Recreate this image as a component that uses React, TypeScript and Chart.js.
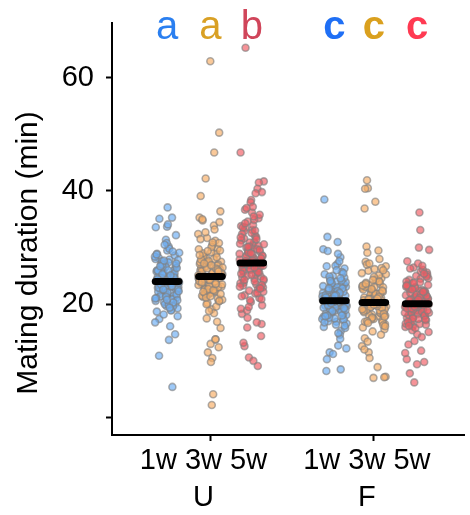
import React, { useEffect, useRef } from 'react';
import { Chart, registerables } from 'chart.js';

Chart.register(...registerables);

// ---- data ----
const groupNames = ['U 1w', 'U 3w', 'U 5w', 'F 1w', 'F 3w', 'F 5w'];
const sigLetters = ['a', 'a', 'b', 'c', 'c', 'c'];
const letterColors = ['#2A7FF0', '#D9A024', '#D0455A', '#1F6FF5', '#DAA01E', '#FF3A52'];
const letterBold = [false, false, false, true, true, true];
const groupMeans = [24.0, 24.9, 27.3, 20.6, 20.3, 20.1];
const yTickValues = [0, 20, 40, 60];
const xTickTop = '1w 3w 5w';
const xTickGroups = ['U', 'F'];
const yTitle = 'Mating duration (min)';

const U1w = [24.3, 21.8, 26.5, 19.7, 28.9, 23.1, 25.6, 22.4, 30.2, 17.4, 24.9, 27.3, 20.6, 23.8, 26.1, 21.2, 29.5, 22.9, 25.2, 18.2, 24.0, 27.9, 23.5, 20.1, 31.4, 25.8, 22.0, 26.8, 19.3, 24.6, 28.2, 21.5, 23.3, 16.8, 25.0, 27.1, 22.6, 30.8, 24.4, 20.9, 26.3, 23.0, 13.7, 25.4, 28.6, 21.9, 24.1, 19.0, 27.6, 23.7, 37.1, 22.2, 25.9, 20.4, 29.1, 24.7, 21.4, 26.9, 23.2, 18.7, 35.3, 25.3, 22.7, 27.4, 10.9, 24.2, 20.0, 28.0, 23.6, 26.2, 21.7, 33.7, 24.8, 19.6, 25.7, 22.3, 29.8, 23.9, 14.7, 26.6, 21.1, 24.5, 27.0, 20.7, 34.1, 23.4, 25.1, 22.5, 28.4, 16.1, 24.3, 32.2, 21.6, 26.0, 5.4, 23.0, 27.8, 19.9, 35.1, 25.5, 22.8, 33.6, 18.9, 24.6, 26.4, 22.1, 25.9, 20.3, 27.7, 23.8, 19.4, 26.7, 24.0, 21.3, 28.8, 23.2, 25.3, 17.9, 26.0, 22.9, 24.7, 30.5, 21.0, 25.1, 23.5, 27.2, 20.8, 24.4, 29.3, 22.6];
const U3w = [25.3, 22.1, 28.4, 20.5, 26.9, 24.0, 31.2, 23.3, 27.5, 19.1, 25.9, 29.8, 21.7, 24.6, 33.9, 22.8, 26.2, 62.9, 23.9, 28.9, 17.5, 25.1, 30.5, 21.3, 27.0, 24.3, 35.3, 22.5, 26.6, 15.8, 29.2, 23.6, 25.7, 20.2, 32.4, 24.8, 27.8, 50.3, 22.0, 26.0, 13.8, 28.1, 23.1, 25.4, 34.8, 21.0, 27.3, 24.5, 46.8, 22.6, 29.5, 13.0, 26.4, 23.7, 31.7, 20.8, 25.6, 28.6, 12.4, 24.2, 27.1, 22.3, 42.2, 25.0, 30.1, 21.5, 26.8, 11.5, 23.4, 28.0, 24.7, 34.5, 22.9, 39.1, 26.3, 20.0, 25.2, 10.5, 29.0, 23.0, 27.6, 24.1, 33.2, 21.9, 36.4, 9.8, 25.8, 28.3, 22.4, 26.5, 4.1, 24.9, 30.8, 23.2, 27.4, 13.8, 21.2, 25.5, 2.2, 35.0, 26.1, 22.7, 29.7, 18.4, 24.4, 24.6, 21.4, 27.9, 19.6, 26.3, 23.5, 30.9, 22.2, 25.8, 18.8, 28.7, 24.0, 32.7, 21.8, 26.9, 23.9, 16.9, 29.4, 25.1, 22.5, 27.2, 20.6, 24.3, 31.5, 23.6];
const U5w = [27.5, 24.2, 31.0, 21.6, 29.3, 26.1, 33.8, 23.5, 28.7, 19.8, 30.4, 25.7, 35.2, 22.4, 27.9, 32.1, 65.3, 24.9, 29.8, 18.3, 26.6, 34.6, 23.0, 28.2, 31.6, 21.1, 27.0, 46.8, 25.3, 30.0, 16.5, 33.1, 26.4, 22.7, 29.0, 41.7, 24.5, 36.7, 27.7, 20.4, 31.3, 25.9, 15.9, 28.5, 34.0, 23.8, 41.5, 26.9, 30.7, 21.9, 27.2, 14.4, 32.6, 24.7, 40.4, 29.5, 22.2, 28.0, 12.6, 35.8, 26.2, 19.2, 31.9, 25.0, 39.8, 27.8, 23.3, 30.3, 10.6, 28.9, 24.0, 33.5, 26.7, 38.4, 21.4, 29.7, 17.6, 27.3, 10.0, 32.9, 25.6, 30.9, 23.7, 39.6, 28.4, 20.9, 36.2, 26.0, 9.1, 29.2, 24.4, 34.9, 27.1, 22.9, 38.0, 25.4, 31.5, 18.9, 28.6, 37.2, 13.2, 26.3, 30.2, 23.1, 33.0, 27.6, 28.1, 25.2, 32.4, 22.0, 30.1, 26.8, 35.5, 24.3, 29.6, 20.7, 31.8, 27.4, 37.0, 23.4, 28.8, 33.6, 25.7, 19.5, 30.6, 26.5, 34.3, 22.8, 29.0, 27.0, 16.8];
const F1w = [20.8, 18.3, 23.1, 16.9, 21.7, 19.4, 25.0, 17.8, 22.4, 20.1, 26.3, 18.9, 21.2, 15.3, 23.8, 19.7, 27.1, 20.5, 17.2, 22.9, 38.5, 19.1, 24.4, 21.5, 16.4, 20.3, 25.7, 18.6, 22.0, 12.7, 19.9, 23.5, 17.5, 21.0, 28.3, 20.7, 18.1, 24.0, 31.9, 19.3, 22.6, 16.0, 21.8, 11.5, 20.2, 26.8, 18.4, 23.3, 19.6, 21.4, 31.0, 17.0, 22.2, 20.0, 25.3, 14.6, 19.0, 23.9, 21.1, 10.3, 18.7, 22.7, 29.7, 20.4, 17.6, 24.7, 19.5, 21.6, 8.5, 20.9, 16.6, 23.0, 29.4, 18.2, 22.1, 20.6, 27.6, 19.2, 15.8, 21.9, 8.2, 24.2, 18.8, 20.8, 28.9, 22.5, 17.3, 21.3, 19.8, 13.9, 23.6, 20.0, 26.0, 18.0, 22.8, 11.2, 19.4, 21.7, 24.9, 16.2, 20.6, 21.2, 18.6, 23.7, 17.4, 22.3, 19.8, 25.5, 20.4, 16.8, 22.0, 24.1, 19.0, 21.6, 26.7, 18.0, 20.9, 23.2, 14.9, 22.8, 19.3, 21.5, 17.9, 24.6, 20.2, 12.2];
const F3w = [20.4, 17.9, 22.8, 16.5, 21.3, 19.0, 24.6, 18.2, 23.2, 20.0, 25.9, 18.7, 21.6, 14.0, 23.6, 19.5, 26.7, 20.3, 41.9, 17.1, 22.3, 19.2, 24.1, 21.0, 15.6, 20.6, 27.5, 18.4, 22.0, 12.6, 19.8, 40.5, 23.0, 17.4, 21.2, 28.0, 19.9, 18.0, 24.4, 30.2, 19.3, 22.5, 15.9, 21.8, 11.5, 20.1, 26.2, 40.4, 18.5, 23.4, 19.6, 21.4, 29.1, 16.8, 22.1, 20.7, 25.1, 10.5, 19.1, 38.1, 23.8, 21.1, 17.7, 22.9, 8.9, 20.5, 16.3, 24.8, 36.9, 18.9, 21.7, 7.2, 20.2, 27.0, 19.4, 15.2, 22.6, 29.5, 18.1, 7.1, 21.5, 23.1, 20.8, 17.3, 25.5, 19.7, 13.4, 22.2, 7.0, 18.6, 24.0, 20.9, 16.1, 21.9, 19.0, 26.4, 17.6, 23.3, 20.3, 20.9, 18.3, 23.0, 16.9, 21.9, 19.5, 25.3, 20.0, 17.0, 22.4, 24.3, 18.8, 21.3, 27.2, 17.8, 20.6, 23.6, 14.6, 22.7, 19.1, 21.0, 16.7, 26.0, 19.9, 12.0];
const F5w = [20.2, 17.6, 22.5, 16.1, 21.0, 18.8, 24.3, 17.9, 23.0, 19.7, 25.8, 18.4, 21.4, 14.7, 23.5, 19.2, 26.5, 20.0, 36.2, 16.8, 22.1, 18.9, 24.0, 20.7, 15.4, 20.4, 27.2, 18.1, 21.8, 13.5, 19.5, 33.1, 22.7, 17.2, 21.1, 27.6, 19.8, 17.7, 24.6, 30.0, 19.0, 22.3, 15.8, 21.6, 11.8, 19.9, 25.6, 18.3, 23.2, 19.4, 21.2, 29.6, 16.5, 22.0, 20.5, 25.0, 10.3, 18.7, 23.7, 20.9, 17.4, 22.8, 9.8, 20.3, 16.0, 24.5, 18.6, 21.5, 9.4, 20.1, 26.1, 19.1, 15.1, 22.4, 7.8, 18.0, 21.3, 23.1, 20.6, 17.0, 25.2, 19.6, 12.9, 22.2, 6.2, 18.5, 23.9, 20.8, 16.4, 21.7, 19.3, 26.8, 17.5, 23.4, 20.0, 20.7, 18.0, 22.9, 16.6, 21.7, 19.3, 24.9, 19.9, 16.9, 22.2, 23.8, 18.5, 21.1, 26.3, 17.3, 20.4, 23.3, 14.2, 22.6, 18.9, 20.8, 16.2, 25.4, 19.6, 11.4];

const groupValues = [U1w, U3w, U5w, F1w, F3w, F5w];

// ---- layout (not data) ----
const FONT = '"Liberation Sans", Arial, Helvetica, sans-serif';
const X_MAX = 358;
const groupPos = [56, 100, 142, 226, 266, 310];
const tickPos = [100, 266];
const JITTER = 25;
const MEAN_HALF = 12;
const blueFill = 'rgba(110,175,245,0.68)';
const orangeFill = 'rgba(248,176,105,0.68)';
const redFill = 'rgba(241,91,98,0.66)';
const fills = [blueFill, orangeFill, redFill, blueFill, orangeFill, redFill];
const strokeCol = 'rgba(128,128,128,0.62)';

function jitter(i: number, g: number) {
  const f = ((i + 1) * 0.6180339887 + g * 0.37) % 1;
  return (f - 0.5) * JITTER;
}

const annotPlugin = {
  id: 'annot',
  afterDraw(chart: any) {
    const ctx = chart.ctx;
    const xs = chart.scales.x;
    ctx.save();
    ctx.textAlign = 'center';
    ctx.textBaseline = 'alphabetic';
    sigLetters.forEach((l, i) => {
      ctx.font = `${letterBold[i] ? 'bold ' : ''}40px ${FONT}`;
      ctx.fillStyle = letterColors[i];
      ctx.fillText(l, xs.getPixelForValue(groupPos[i]), 39);
    });
    ctx.translate(37, 253);
    ctx.rotate(-Math.PI / 2);
    ctx.font = `30px ${FONT}`;
    ctx.fillStyle = '#000';
    ctx.fillText(yTitle, 0, 0);
    ctx.restore();
  },
};

export default function App() {
  const ref = useRef<HTMLCanvasElement | null>(null);
  useEffect(() => {
    if (!ref.current) return;
    const pointSets = groupValues.map((vals, g) => ({
      label: groupNames[g],
      data: vals.map((v, i) => ({ x: groupPos[g] + jitter(i, g), y: v })),
      backgroundColor: fills[g],
      borderColor: strokeCol,
      borderWidth: 1.6,
      pointRadius: 3.5,
      showLine: false,
      order: 2,
    }));
    const meanSets = groupMeans.map((m, g) => ({
      label: groupNames[g] + ' mean',
      data: [
        { x: groupPos[g] - MEAN_HALF, y: m },
        { x: groupPos[g] + MEAN_HALF, y: m },
      ],
      borderColor: '#000',
      backgroundColor: '#000',
      borderWidth: 7,
      borderCapStyle: 'round',
      pointRadius: 0,
      showLine: true,
      order: 1,
    }));
    const chart = new Chart(ref.current, {
      type: 'scatter',
      data: { datasets: [...meanSets, ...pointSets] as any },
      plugins: [annotPlugin],
      options: {
        responsive: false,
        animation: false,
        devicePixelRatio: 1,
        layout: { padding: { top: 23, right: 0, left: 0, bottom: 0 } },
        plugins: { legend: { display: false }, tooltip: { enabled: false } },
        scales: {
          x: {
            type: 'linear',
            min: 0,
            max: X_MAX,
            afterBuildTicks: (s: any) => {
              s.ticks = tickPos.map((v) => ({ value: v }));
            },
            afterFit: (s: any) => {
              s.height = 80;
              s.paddingLeft = 0;
              s.paddingRight = 0;
            },
            ticks: {
              autoSkip: false,
              maxRotation: 0,
              minRotation: 0,
              padding: 1,
              labelOffset: -7,
              color: '#000',
              font: { family: FONT, size: 29, lineHeight: 1.29 },
              callback: (v: any) => [xTickTop, xTickGroups[tickPos.indexOf(Number(v))] ?? ''],
            },
            grid: { drawOnChartArea: false, drawTicks: true, tickLength: 6, tickColor: '#000', tickWidth: 2 },
            border: { display: true, color: '#000', width: 2 },
          },
          y: {
            type: 'linear',
            min: -3.09,
            max: 69.66,
            afterBuildTicks: (s: any) => {
              s.ticks = yTickValues.map((v) => ({ value: v }));
            },
            afterFit: (s: any) => {
              s.width = 112;
              s.paddingTop = 0;
              s.paddingBottom = 0;
            },
            ticks: {
              padding: 12,
              color: '#000',
              font: { family: FONT, size: 29 },
              callback: (v: any) => (Number(v) === 0 ? '' : String(v)),
            },
            grid: { drawOnChartArea: false, drawTicks: true, tickLength: 6, tickColor: '#000', tickWidth: 2 },
            border: { display: true, color: '#000', width: 2 },
          },
        },
      },
    });
    return () => chart.destroy();
  }, []);
  return (
    <div style={{ position: 'absolute', left: 0, top: 0, width: 470, height: 515, background: '#fff' }}>
      <canvas ref={ref} width={470} height={515} style={{ display: 'block' }} />
    </div>
  );
}
